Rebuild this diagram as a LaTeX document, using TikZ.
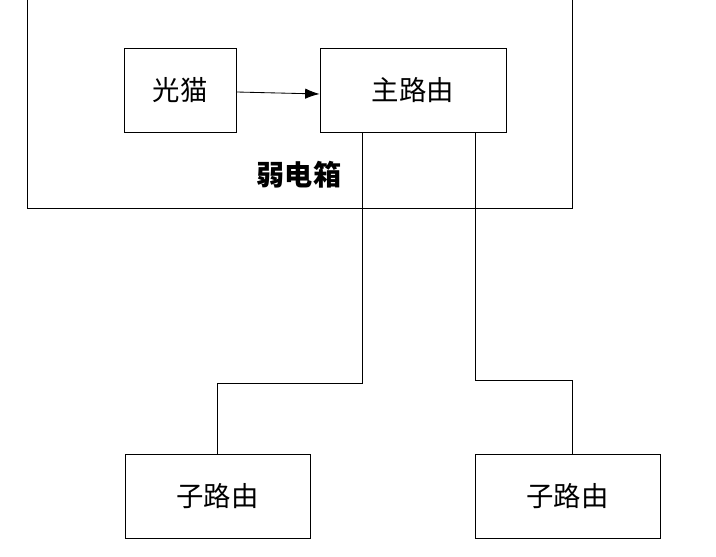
\documentclass[tikz,border=0pt]{standalone}
\usepackage{fontspec}
\setmainfont{Noto Sans CJK SC}
\usetikzlibrary{positioning, arrows.meta}
\tikzset{
    box/.style={draw, line width=0.6pt, minimum height=2.1cm, font=\fontsize{19.5}{22}\selectfont},
    arrow/.style={-{Latex[length=3.6mm, width=2.6mm]}, line width=0.6pt},
    line/.style={draw, line width=0.6pt}
}

\begin{document}
\begin{tikzpicture}[x=0.025cm, y=-0.025cm]
    \useasboundingbox (0,0) rectangle (716,557);
    \clip (0,0) rectangle (716,557);

    % Weak current box
    \node [draw, line width=0.6pt, minimum width=13.625cm, minimum height=5.9cm] (cab) at (299.5,90) {};
    \node [font=\fontsize{20}{23}\selectfont\bfseries] (cablabel) at (299,175) {弱电箱};

    % Devices inside
    \node [box, minimum width=2.8cm] (modem) at (180,90) {光猫};
    \node [box, minimum width=4.65cm] (main) at (413,90) {主路由};

    % Sub routers
    \node [box, minimum width=4.625cm] (subl) at (217.5,496) {子路由};
    \node [box, minimum width=4.625cm] (subr) at (567.5,496) {子路由};

    % Connections
    \draw [arrow] ([yshift=-0.05cm]modem.east) -- ([yshift=-0.1cm]main.west);
    \coordinate (ml) at ([xshift=-1.275cm]main.south);
    \coordinate (mr) at ([xshift=1.55cm]main.south);
    \coordinate (sr) at ([xshift=0.1125cm]subr.north);
    \draw [line] (ml) -- ++(0,251) -| (subl.north);
    \draw [line] (mr) -- ++(0,248) -| (sr);
\end{tikzpicture}
\end{document}
